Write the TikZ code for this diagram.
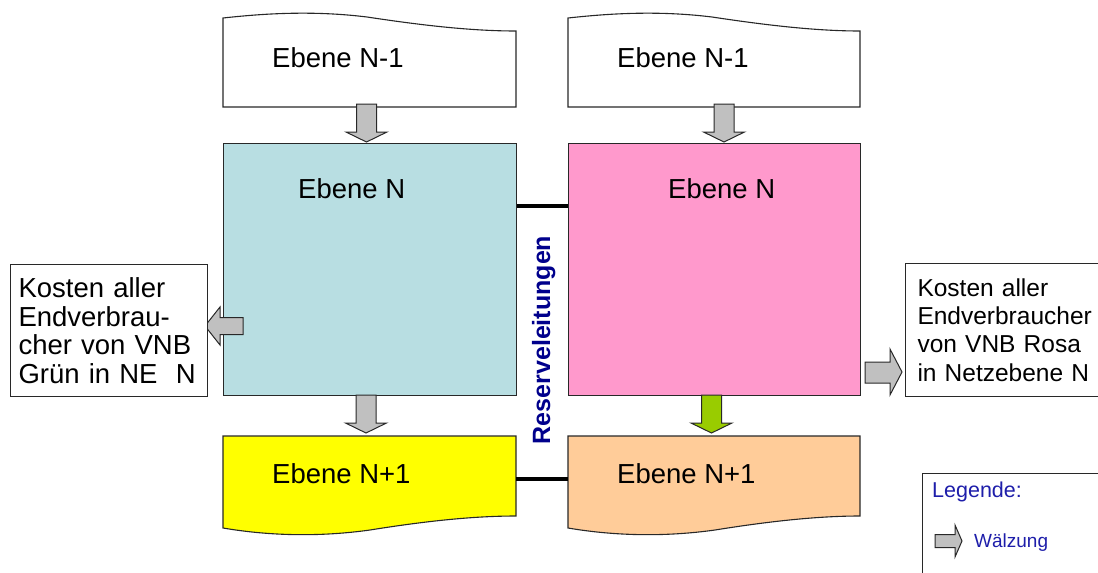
\documentclass[tikz,border=0pt]{standalone}
\usepackage{fontspec}
\setmainfont{Liberation Sans}
\definecolor{cyanbox}{RGB}{184,222,226}
\definecolor{pinkbox}{RGB}{255,153,204}
\definecolor{yellowbox}{RGB}{255,255,0}
\definecolor{orangebox}{RGB}{255,204,153}
\definecolor{arrowgray}{RGB}{192,192,192}
\definecolor{arrowgreen}{RGB}{153,204,0}
\definecolor{edgecol}{RGB}{40,40,40}
\definecolor{navy}{RGB}{0,0,140}
\definecolor{legblue}{RGB}{30,30,170}
\begin{document}
\begin{tikzpicture}[x=1pt,y=-1pt,
  edge/.style={draw=edgecol, line width=1.1pt},
  blk/.style={draw=edgecol, line width=1pt, line join=miter},
  lvl/.style={font=\fontsize{27.5}{30}\selectfont, inner sep=0pt, anchor=base west},
  costbox/.style={draw=edgecol, line width=1pt, fill=white, align=left, anchor=north west, inner xsep=0pt, inner ysep=0pt},
  tie/.style={draw=black, line width=3.6pt},
  downblk/.pic={\draw[blk, fill=#1] (-10,0) -- (10,0) -- (10,28) -- (20.5,28) -- (0,38) -- (-20.5,28) -- (-10,28) -- cycle;},
]
\useasboundingbox (0,0) rectangle (1098,573);

% ---- top document shapes (Ebene N-1)
\draw[edge, fill=white] (223,107) -- (223,18) .. controls (260,14) and (310,10) .. (367,17) .. controls (420,25) and (470,31) .. (516,31) -- (516,107) -- cycle;
\draw[edge, fill=white] (568,107) -- (568,18) .. controls (605,14) and (655,10) .. (712,17) .. controls (765,25) and (815,31) .. (860,31) -- (860,107) -- cycle;
\node[lvl] (tl) at (272,67) {Ebene N-1};
\node[lvl] (tr) at (617,67) {Ebene N-1};

% ---- main boxes (Ebene N)
\node[edge, fill=cyanbox, minimum width=293pt, minimum height=252pt, inner sep=0pt, anchor=north west] (cy) at (223,143) {};
\node[edge, fill=pinkbox, minimum width=292pt, minimum height=252pt, inner sep=0pt, anchor=north west] (pk) at (568,143) {};
\node[lvl] (cyt) at (298,198) {Ebene N};
\node[lvl] (pkt) at (668,198) {Ebene N};

% ---- bottom document shapes (Ebene N+1)
\draw[edge, fill=yellowbox] (223,436) -- (516,436) -- (516,516) .. controls (470,516) and (420,522) .. (370,530) .. controls (320,537) and (270,536) .. (223,528) -- cycle;
\draw[edge, fill=orangebox] (568,436) -- (860,436) -- (860,516) .. controls (815,516) and (765,522) .. (715,530) .. controls (665,537) and (615,536) .. (568,528) -- cycle;
\coordinate (ye) at (516,479);
\coordinate (ow) at (568,479);
\node[lvl] (yt) at (272,483) {Ebene N+1};
\node[lvl] (ot) at (617,483) {Ebene N+1};

% ---- reserve lines
\draw[tie] (cy.east |- 0,206) -- (pk.west |- 0,206);
\draw[tie] (ye) -- (ow);
\node[rotate=90, anchor=base, inner sep=0pt, text=navy, font=\fontsize{25}{28}\selectfont\bfseries] (res) at (550,340) {Reserveleitungen};

% ---- Wälzung arrows
\pic at (366.5,104) {downblk=arrowgray};
\pic at (724,104) {downblk=arrowgray};
\pic at (366,395) {downblk=arrowgray};
\pic at (711.5,395) {downblk=arrowgreen};

% left arrow (cyan -> cost box left)
\draw[blk, fill=arrowgray] (243,317.5) -- (220,317.5) -- (220,307) -- (205,326) -- (220,345) -- (220,334.5) -- (243,334.5) -- cycle;
% right arrow (pink -> cost box right)
\draw[blk, fill=arrowgray] (865,362) -- (890,362) -- (890,349) -- (902,372) -- (890,395) -- (890,383) -- (865,383) -- cycle;

% ---- cost boxes
\node[costbox, minimum width=197pt, minimum height=132pt, text width=181pt, inner xsep=8pt, font=\fontsize{27.5}{28.5}\selectfont] (kl) at (10,264)
  {Kosten aller\\Endverbrau-\\cher von VNB\\Grün in NE\ \ N};
\node[costbox, minimum width=200pt, minimum height=133pt, text width=176pt, inner xsep=12pt, font=\fontsize{24.5}{28.3}\selectfont] (kr) at (905,263)
  {Kosten aller\\Endverbraucher\\von VNB Rosa\\in Netzebene N};

% ---- legend
\node[draw=edgecol, line width=1pt, fill=white, minimum width=190pt, minimum height=120pt, anchor=north west, inner sep=0pt] (lg) at (922,473) {};
\node[inner sep=0pt, anchor=base west, text=legblue, font=\fontsize{21.5}{24}\selectfont] (lgt) at (932,497) {Legende:};
\draw[blk, fill=arrowgray] (935,534.5) -- (955,534.5) -- (955,525) -- (962,541) -- (955,557) -- (955,547.5) -- (935,547.5) -- cycle;
\node[inner sep=0pt, anchor=base west, text=legblue, font=\fontsize{19}{22}\selectfont] (lgw) at (974,547) {Wälzung};
\end{tikzpicture}
\end{document}
